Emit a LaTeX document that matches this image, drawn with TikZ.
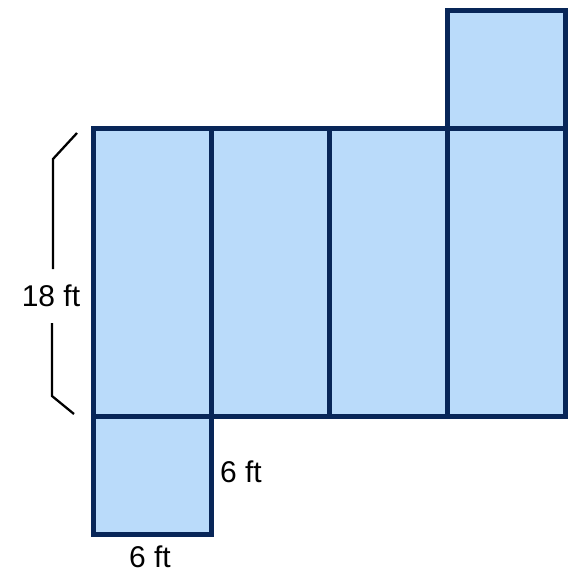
\documentclass[tikz,border=0pt]{standalone}
\usepackage{fontspec}
\setmainfont{Liberation Sans}
\definecolor{navy}{RGB}{8,38,88}
\definecolor{pale}{RGB}{186,219,250}
\begin{document}
\begin{tikzpicture}[x=1pt,y=-1pt,
  face/.style={draw=navy,fill=pale,line width=5pt,inner sep=0pt,outer sep=0pt,minimum width=118pt},
  tall/.style={face,minimum height=288pt},
  sq/.style={face,minimum height=118pt},
  lbl/.style={font=\fontsize{30}{32}\selectfont,inner sep=0pt},
  brace/.style={draw=black,line width=2.3pt}]
\useasboundingbox (0,0) rectangle (577,576);
\node[tall] (c1) at (152,272) {};
\node[tall] (c2) at (270,272) {};
\node[tall] (c3) at (388,272) {};
\node[tall] (c4) at (506,272) {};
\node[sq] (top) at (506,69) {};
\node[sq] (bot) at (152,475) {};
\node[lbl,outer ysep=16pt] (h) at (51,296) {18 ft};
\node[lbl] (r) at (241,472) {6 ft};
\node[lbl] (b) at (150,557) {6 ft};
\coordinate (b1) at (77,133);
\coordinate (b2) at (53,159);
\coordinate (b3) at (52,396);
\coordinate (b4) at (74,414);
\draw[brace] (b1) -- (b2) -- (h.north -| b2);
\draw[brace] (h.south -| b3) -- (b3) -- (b4);
\end{tikzpicture}
\end{document}
